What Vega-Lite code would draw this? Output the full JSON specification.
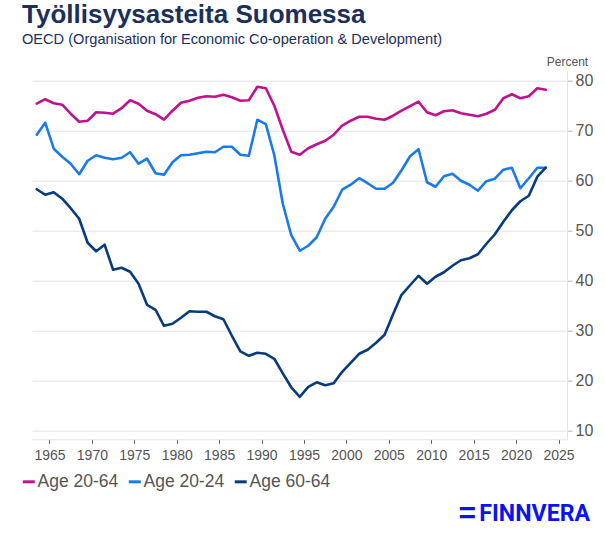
{
  "$schema": "https://vega.github.io/schema/vega-lite/v6.json",
  "width": 535,
  "height": 368.6,
  "autosize": "none",
  "padding": {"left": 32, "top": 70.7, "right": 38, "bottom": 99.7},
  "background": "white",
  "title": {
    "text": "Työllisyysasteita Suomessa",
    "subtitle": "OECD (Organisation for Economic Co-operation & Development)",
    "anchor": "start",
    "frame": "group",
    "dx": -10,
    "offset": 9,
    "font": "Liberation Sans",
    "fontSize": 26,
    "fontWeight": "bold",
    "color": "#1b2f5b",
    "subtitleFont": "Liberation Sans",
    "subtitleFontSize": 14.6,
    "subtitleColor": "#1b2f5b",
    "subtitlePadding": 4
  },
  "layer": [
    {
      "data": {
        "values": [
          {"series":"Age 20-64","year":1963.5,"value":75.3},{"series":"Age 20-64","year":1964.5,"value":76.2},{"series":"Age 20-64","year":1965.5,"value":75.4},{"series":"Age 20-64","year":1966.5,"value":75.1},{"series":"Age 20-64","year":1967.5,"value":73.3},{"series":"Age 20-64","year":1968.5,"value":71.7},{"series":"Age 20-64","year":1969.5,"value":71.9},{"series":"Age 20-64","year":1970.5,"value":73.6},{"series":"Age 20-64","year":1971.5,"value":73.5},{"series":"Age 20-64","year":1972.5,"value":73.3},{"series":"Age 20-64","year":1973.5,"value":74.4},{"series":"Age 20-64","year":1974.5,"value":76.0},{"series":"Age 20-64","year":1975.5,"value":75.3},{"series":"Age 20-64","year":1976.5,"value":73.9},{"series":"Age 20-64","year":1977.5,"value":73.2},{"series":"Age 20-64","year":1978.5,"value":72.1},{"series":"Age 20-64","year":1979.5,"value":73.9},{"series":"Age 20-64","year":1980.5,"value":75.5},{"series":"Age 20-64","year":1981.5,"value":75.9},{"series":"Age 20-64","year":1982.5,"value":76.5},{"series":"Age 20-64","year":1983.5,"value":76.8},{"series":"Age 20-64","year":1984.5,"value":76.7},{"series":"Age 20-64","year":1985.5,"value":77.1},{"series":"Age 20-64","year":1986.5,"value":76.6},{"series":"Age 20-64","year":1987.5,"value":75.9},{"series":"Age 20-64","year":1988.5,"value":76.0},{"series":"Age 20-64","year":1989.5,"value":78.7},{"series":"Age 20-64","year":1990.5,"value":78.4},{"series":"Age 20-64","year":1991.5,"value":74.9},{"series":"Age 20-64","year":1992.5,"value":70.1},{"series":"Age 20-64","year":1993.5,"value":65.7},{"series":"Age 20-64","year":1994.5,"value":65.1},{"series":"Age 20-64","year":1995.5,"value":66.4},{"series":"Age 20-64","year":1996.5,"value":67.2},{"series":"Age 20-64","year":1997.5,"value":67.9},{"series":"Age 20-64","year":1998.5,"value":69.1},{"series":"Age 20-64","year":1999.5,"value":70.9},{"series":"Age 20-64","year":2000.5,"value":71.9},{"series":"Age 20-64","year":2001.5,"value":72.7},{"series":"Age 20-64","year":2002.5,"value":72.7},{"series":"Age 20-64","year":2003.5,"value":72.3},{"series":"Age 20-64","year":2004.5,"value":72.1},{"series":"Age 20-64","year":2005.5,"value":72.9},{"series":"Age 20-64","year":2006.5,"value":73.9},{"series":"Age 20-64","year":2007.5,"value":74.8},{"series":"Age 20-64","year":2008.5,"value":75.7},{"series":"Age 20-64","year":2009.5,"value":73.6},{"series":"Age 20-64","year":2010.5,"value":73.0},{"series":"Age 20-64","year":2011.5,"value":73.8},{"series":"Age 20-64","year":2012.5,"value":74.0},{"series":"Age 20-64","year":2013.5,"value":73.4},{"series":"Age 20-64","year":2014.5,"value":73.1},{"series":"Age 20-64","year":2015.5,"value":72.8},{"series":"Age 20-64","year":2016.5,"value":73.3},{"series":"Age 20-64","year":2017.5,"value":74.1},{"series":"Age 20-64","year":2018.5,"value":76.4},{"series":"Age 20-64","year":2019.5,"value":77.2},{"series":"Age 20-64","year":2020.5,"value":76.4},{"series":"Age 20-64","year":2021.5,"value":76.8},{"series":"Age 20-64","year":2022.5,"value":78.4},{"series":"Age 20-64","year":2023.5,"value":78.1},
          {"series":"Age 20-24","year":1963.5,"value":69.1},{"series":"Age 20-24","year":1964.5,"value":71.5},{"series":"Age 20-24","year":1965.5,"value":66.3},{"series":"Age 20-24","year":1966.5,"value":64.7},{"series":"Age 20-24","year":1967.5,"value":63.3},{"series":"Age 20-24","year":1968.5,"value":61.2},{"series":"Age 20-24","year":1969.5,"value":63.9},{"series":"Age 20-24","year":1970.5,"value":65.0},{"series":"Age 20-24","year":1971.5,"value":64.5},{"series":"Age 20-24","year":1972.5,"value":64.2},{"series":"Age 20-24","year":1973.5,"value":64.5},{"series":"Age 20-24","year":1974.5,"value":65.6},{"series":"Age 20-24","year":1975.5,"value":63.3},{"series":"Age 20-24","year":1976.5,"value":64.3},{"series":"Age 20-24","year":1977.5,"value":61.4},{"series":"Age 20-24","year":1978.5,"value":61.1},{"series":"Age 20-24","year":1979.5,"value":63.6},{"series":"Age 20-24","year":1980.5,"value":65.0},{"series":"Age 20-24","year":1981.5,"value":65.1},{"series":"Age 20-24","year":1982.5,"value":65.4},{"series":"Age 20-24","year":1983.5,"value":65.7},{"series":"Age 20-24","year":1984.5,"value":65.6},{"series":"Age 20-24","year":1985.5,"value":66.7},{"series":"Age 20-24","year":1986.5,"value":66.7},{"series":"Age 20-24","year":1987.5,"value":65.1},{"series":"Age 20-24","year":1988.5,"value":64.9},{"series":"Age 20-24","year":1989.5,"value":72.1},{"series":"Age 20-24","year":1990.5,"value":71.2},{"series":"Age 20-24","year":1991.5,"value":65.0},{"series":"Age 20-24","year":1992.5,"value":55.3},{"series":"Age 20-24","year":1993.5,"value":49.0},{"series":"Age 20-24","year":1994.5,"value":45.9},{"series":"Age 20-24","year":1995.5,"value":46.9},{"series":"Age 20-24","year":1996.5,"value":48.6},{"series":"Age 20-24","year":1997.5,"value":52.3},{"series":"Age 20-24","year":1998.5,"value":54.7},{"series":"Age 20-24","year":1999.5,"value":58.1},{"series":"Age 20-24","year":2000.5,"value":59.1},{"series":"Age 20-24","year":2001.5,"value":60.4},{"series":"Age 20-24","year":2002.5,"value":59.4},{"series":"Age 20-24","year":2003.5,"value":58.3},{"series":"Age 20-24","year":2004.5,"value":58.3},{"series":"Age 20-24","year":2005.5,"value":59.5},{"series":"Age 20-24","year":2006.5,"value":62.0},{"series":"Age 20-24","year":2007.5,"value":64.8},{"series":"Age 20-24","year":2008.5,"value":66.2},{"series":"Age 20-24","year":2009.5,"value":59.6},{"series":"Age 20-24","year":2010.5,"value":58.7},{"series":"Age 20-24","year":2011.5,"value":60.8},{"series":"Age 20-24","year":2012.5,"value":61.3},{"series":"Age 20-24","year":2013.5,"value":59.9},{"series":"Age 20-24","year":2014.5,"value":59.1},{"series":"Age 20-24","year":2015.5,"value":57.9},{"series":"Age 20-24","year":2016.5,"value":59.8},{"series":"Age 20-24","year":2017.5,"value":60.3},{"series":"Age 20-24","year":2018.5,"value":62.1},{"series":"Age 20-24","year":2019.5,"value":62.5},{"series":"Age 20-24","year":2020.5,"value":58.4},{"series":"Age 20-24","year":2021.5,"value":60.4},{"series":"Age 20-24","year":2022.5,"value":62.5},{"series":"Age 20-24","year":2023.5,"value":62.5},
          {"series":"Age 60-64","year":1963.5,"value":58.2},{"series":"Age 60-64","year":1964.5,"value":57.1},{"series":"Age 60-64","year":1965.5,"value":57.6},{"series":"Age 60-64","year":1966.5,"value":56.3},{"series":"Age 60-64","year":1967.5,"value":54.4},{"series":"Age 60-64","year":1968.5,"value":52.3},{"series":"Age 60-64","year":1969.5,"value":47.5},{"series":"Age 60-64","year":1970.5,"value":45.8},{"series":"Age 60-64","year":1971.5,"value":47.1},{"series":"Age 60-64","year":1972.5,"value":42.1},{"series":"Age 60-64","year":1973.5,"value":42.5},{"series":"Age 60-64","year":1974.5,"value":41.7},{"series":"Age 60-64","year":1975.5,"value":39.3},{"series":"Age 60-64","year":1976.5,"value":35.1},{"series":"Age 60-64","year":1977.5,"value":34.1},{"series":"Age 60-64","year":1978.5,"value":30.9},{"series":"Age 60-64","year":1979.5,"value":31.3},{"series":"Age 60-64","year":1980.5,"value":32.5},{"series":"Age 60-64","year":1981.5,"value":33.8},{"series":"Age 60-64","year":1982.5,"value":33.7},{"series":"Age 60-64","year":1983.5,"value":33.7},{"series":"Age 60-64","year":1984.5,"value":32.8},{"series":"Age 60-64","year":1985.5,"value":32.2},{"series":"Age 60-64","year":1986.5,"value":28.9},{"series":"Age 60-64","year":1987.5,"value":25.8},{"series":"Age 60-64","year":1988.5,"value":24.9},{"series":"Age 60-64","year":1989.5,"value":25.5},{"series":"Age 60-64","year":1990.5,"value":25.3},{"series":"Age 60-64","year":1991.5,"value":24.3},{"series":"Age 60-64","year":1992.5,"value":21.4},{"series":"Age 60-64","year":1993.5,"value":18.6},{"series":"Age 60-64","year":1994.5,"value":16.7},{"series":"Age 60-64","year":1995.5,"value":18.7},{"series":"Age 60-64","year":1996.5,"value":19.6},{"series":"Age 60-64","year":1997.5,"value":19.0},{"series":"Age 60-64","year":1998.5,"value":19.4},{"series":"Age 60-64","year":1999.5,"value":21.7},{"series":"Age 60-64","year":2000.5,"value":23.5},{"series":"Age 60-64","year":2001.5,"value":25.3},{"series":"Age 60-64","year":2002.5,"value":26.1},{"series":"Age 60-64","year":2003.5,"value":27.5},{"series":"Age 60-64","year":2004.5,"value":29.1},{"series":"Age 60-64","year":2005.5,"value":33.2},{"series":"Age 60-64","year":2006.5,"value":37.1},{"series":"Age 60-64","year":2007.5,"value":39.0},{"series":"Age 60-64","year":2008.5,"value":40.9},{"series":"Age 60-64","year":2009.5,"value":39.3},{"series":"Age 60-64","year":2010.5,"value":40.7},{"series":"Age 60-64","year":2011.5,"value":41.6},{"series":"Age 60-64","year":2012.5,"value":42.9},{"series":"Age 60-64","year":2013.5,"value":44.0},{"series":"Age 60-64","year":2014.5,"value":44.4},{"series":"Age 60-64","year":2015.5,"value":45.2},{"series":"Age 60-64","year":2016.5,"value":47.3},{"series":"Age 60-64","year":2017.5,"value":49.2},{"series":"Age 60-64","year":2018.5,"value":51.7},{"series":"Age 60-64","year":2019.5,"value":54.0},{"series":"Age 60-64","year":2020.5,"value":55.8},{"series":"Age 60-64","year":2021.5,"value":56.9},{"series":"Age 60-64","year":2022.5,"value":60.7},{"series":"Age 60-64","year":2023.5,"value":62.5}
        ]
      },
      "mark": {"type": "line", "strokeWidth": 2.6, "strokeJoin": "round", "strokeCap": "round", "clip": false},
      "encoding": {
        "x": {
          "field": "year",
          "type": "quantitative",
          "scale": {"domain": [1962.94, 2026], "nice": false, "zero": false},
          "axis": {
            "title": null,
            "values": [1965, 1970, 1975, 1980, 1985, 1990, 1995, 2000, 2005, 2010, 2015, 2020, 2025],
            "format": "d",
            "grid": false,
            "domainColor": "#e3e3e3",
            "domainWidth": 1,
            "tickColor": "#555555",
            "tickSize": 4,
            "labelFont": "Liberation Sans",
            "labelFontSize": 14,
            "labelColor": "#555555",
            "labelPadding": 5,
            "labelFlush": false,
            "labelOverlap": false
          }
        },
        "y": {
          "field": "value",
          "type": "quantitative",
          "scale": {"domain": [8.2, 81.9], "nice": false, "zero": false},
          "axis": {
            "orient": "right",
            "title": "Percent",
            "titleAngle": 0,
            "titleX": 0,
            "titleY": -9,
            "titleAlign": "center",
            "titleBaseline": "middle",
            "titleFont": "Liberation Sans",
            "titleFontSize": 12,
            "titleFontWeight": "normal",
            "titleColor": "#555555",
            "values": [10, 20, 30, 40, 50, 60, 70, 80],
            "grid": true,
            "gridColor": "#e3e3e3",
            "gridWidth": 1,
            "domainColor": "#e3e3e3",
            "tickColor": "#b5b5b5",
            "tickSize": 5,
            "labelFont": "Liberation Sans",
            "labelFontSize": 16,
            "labelColor": "#555555",
            "labelPadding": 3
          }
        },
        "color": {
          "field": "series",
          "type": "nominal",
          "scale": {
            "domain": ["Age 20-64", "Age 20-24", "Age 60-64"],
            "range": ["#c0118f", "#1a7ae8", "#073b7c"]
          },
          "legend": {
            "title": null,
            "orient": "none",
            "legendX": -12,
            "legendY": 402,
            "direction": "horizontal",
            "columns": 3,
            "symbolType": "stroke",
            "symbolSize": 144,
            "symbolStrokeWidth": 3,
            "columnPadding": 3,
            "labelOffset": 0,
            "labelFont": "Liberation Sans",
            "labelFontSize": 17.5,
            "labelColor": "#555555",
            "labelLimit": 200
          }
        }
      }
    },
    {
      "data": {"values": [{"year": 2014.2, "value": -6.8, "label": "="}]},
      "mark": {"type": "text", "font": "Liberation Sans", "fontSize": 30, "fontWeight": "bold", "fontStyle": "italic", "color": "#0a14f0", "align": "center", "baseline": "middle", "clip": false},
      "encoding": {
        "x": {"field": "year", "type": "quantitative"},
        "y": {"field": "value", "type": "quantitative"},
        "text": {"field": "label"}
      }
    },
    {
      "data": {"values": [{"year": 2022.2, "value": -6.8, "label": "FINNVERA"}]},
      "mark": {"type": "text", "font": "Roboto", "fontSize": 23.2, "fontWeight": "bold", "color": "#0a14f0", "align": "center", "baseline": "middle", "clip": false},
      "encoding": {
        "x": {"field": "year", "type": "quantitative"},
        "y": {"field": "value", "type": "quantitative"},
        "text": {"field": "label"}
      }
    }
  ],
  "config": {"view": {"stroke": null}}
}
